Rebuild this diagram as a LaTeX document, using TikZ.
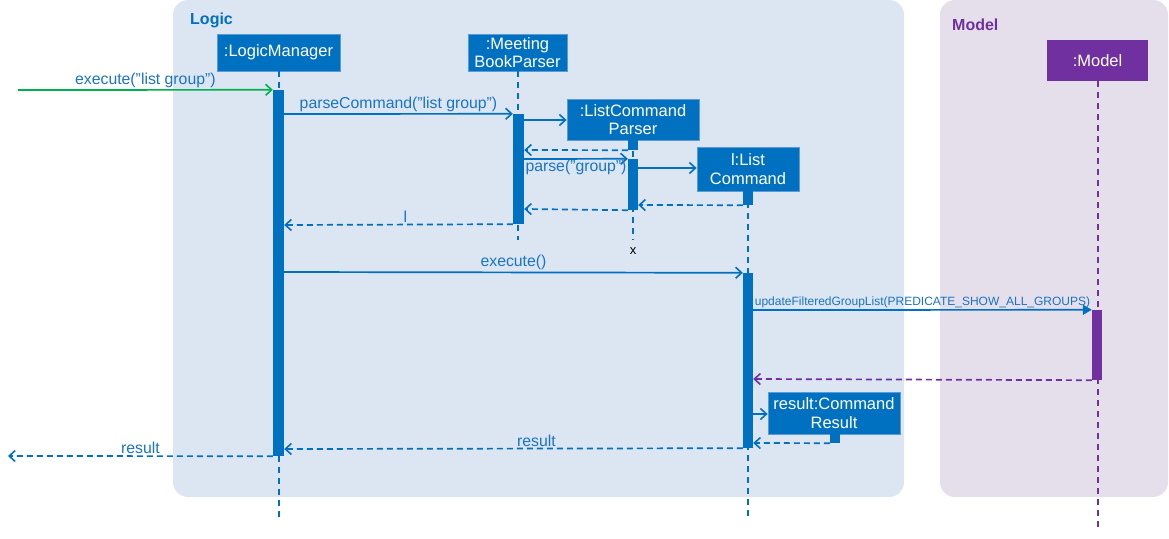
\documentclass[tikz,border=0pt]{standalone}
\usepackage{fontspec}
\setmainfont{Liberation Sans}
\usetikzlibrary{arrows.meta}
\definecolor{lblue}{HTML}{0070C0}
\definecolor{tblue}{HTML}{1A74C4}
\definecolor{lgreen}{HTML}{00B050}
\definecolor{lpurple}{HTML}{7030A0}
\definecolor{logicbg}{HTML}{DCE6F2}
\definecolor{modelbg}{HTML}{E5DFEC}
\definecolor{boxedge}{HTML}{5B9BD5}
\begin{document}
\begin{tikzpicture}[x=1pt,y=-1pt,
  frame/.style={fill=#1,rounded corners=15pt,inner sep=0,draw=none},
  obj/.style={fill=lblue,draw=boxedge,line width=0.8pt,text=white,align=center,inner sep=0,
    font=\fontsize{16.5}{18.5}\selectfont},
  mobj/.style={fill=lpurple,draw=none,text=white,align=center,inner sep=0,
    font=\fontsize{16.5}{18.5}\selectfont},
  actbar/.style={fill=#1,draw=none,inner sep=0,minimum width=11},
  life/.style={draw=#1,line width=2pt,dash pattern=on 6pt off 5pt},
  msg/.style={draw=lblue,line width=1.7pt,-{Straight Barb[length=6pt,width=11pt,line width=1.6pt]}},
  ret/.style={draw=#1,line width=1.7pt,dash pattern=on 6pt off 4pt,-{Straight Barb[length=6pt,width=11pt,line width=1.6pt]}},
  lbl/.style={text=tblue,font=\fontsize{15.8}{17}\selectfont,inner sep=1.5pt},
  ttl/.style={font=\bfseries\fontsize{16}{17}\selectfont,inner sep=0}
]
\useasboundingbox (0,0) rectangle (1169,538);
% frames
\node[frame=logicbg,minimum width=731,minimum height=497] (logic) at (538.5,248.5) {};
\node[frame=modelbg,minimum width=228,minimum height=497] (model) at (1054,248.5) {};
\node[ttl,text=lblue,anchor=west] (logicT) at (190,20) {Logic};
\node[ttl,text=lpurple,anchor=west] (modelT) at (952,25) {Model};

% lifeline heads
\node[obj,minimum width=123,minimum height=37] (lm) at (278.5,52.5) {:LogicManager};
\node[obj,minimum width=99,minimum height=37] (mbp) at (517.5,52.5) {:Meeting\\BookParser};
\node[obj,minimum width=132,minimum height=41] (lcp) at (633,119.5) {:ListCommand\\Parser};
\node[obj,minimum width=102,minimum height=44] (lc) at (748,169) {l:List\\Command};
\node[mobj,minimum width=101,minimum height=41] (mdl) at (1097.5,60.5) {:Model};
\node[obj,minimum width=132,minimum height=42] (cr) at (834,413) {result:Command\\Result};

% lifelines
\draw[life=lblue] (lm.south) -- (lm.south |- 0,520);
\draw[life=lblue] (mbp.south) -- (mbp.south |- 0,240);
\draw[life=lblue] (lcp.south) -- (lcp.south |- 0,240);
\node[inner sep=0,font=\fontsize{13}{14}\selectfont] (x) at (633,251) {x};
\draw[life=lblue] (lc.south) -- (lc.south |- 0,520);
\draw[life=lpurple] (mdl.south) -- (mdl.south |- 0,530);

% activation bars
\node[actbar=lblue,minimum height=366] (lmbar) at (278.5,273) {};
\node[actbar=lblue,minimum height=110] (mbpbar) at (518.5,169) {};
\node[actbar=lblue,minimum width=10,minimum height=10] (lcpbar0) at (633,145) {};
\node[actbar=lblue,minimum width=10,minimum height=51] (lcpbar) at (633,184.5) {};
\node[actbar=lblue,minimum width=10,minimum height=14] (lcbar0) at (748,198) {};
\node[actbar=lblue,minimum width=10,minimum height=175] (lcbar) at (748,360.5) {};
\node[actbar=lpurple,minimum width=10,minimum height=70] (mbar) at (1097,345) {};
\node[actbar=lblue,minimum width=10,minimum height=9] (crbar0) at (835,438.5) {};

% messages
\coordinate (src) at (18,90);
\coordinate (snk) at (8,456);
\draw[msg,draw=lgreen] (src) -- (lmbar.north west) node[lbl,midway,above] {execute("list group")};
\draw[msg] (lmbar.east |- 0,114) -- (mbpbar.north west) node[lbl,midway,above] {parseCommand("list group")};
\draw[msg] (mbpbar.east |- 0,120) -- (lcp.west |- 0,120);
\draw[ret=lblue] (lcpbar0.south west) -- (mbpbar.east |- 0,150);
\draw[msg] (mbpbar.east |- 0,159) -- (lcpbar.north west) node[lbl,midway,below,yshift=1pt] {parse("group")};
\draw[msg] (lcpbar.east |- 0,168) -- (lc.west |- 0,168);
\draw[ret=lblue] (lcbar0.south west) -- (lcpbar.east |- 0,205);
\draw[ret=lblue] (lcpbar.south west) -- (mbpbar.east |- 0,209);
\draw[ret=lblue] (mbpbar.south west) -- (lmbar.east |- 0,225) node[lbl,pos=0.47,above] {l};
\draw[msg] (lmbar.east |- 0,272) -- (lcbar.north west) node[lbl,midway,above] {execute()};
\draw[draw=lblue,line width=1.7pt,-{Triangle[length=9pt,width=10pt]}] (lcbar.east |- 0,310) -- (mbar.north west)
  node[lbl,midway,above,font=\fontsize{12}{13}\selectfont] {updateFilteredGroupList(PREDICATE\_SHOW\_ALL\_GROUPS)};
\draw[ret=lpurple] (mbar.south west) -- (lcbar.east |- 0,379);
\draw[msg] (lcbar.east |- 0,414) -- (cr.west |- 0,414);
\draw[ret=lblue] (crbar0.south west) -- (lcbar.east |- 0,443);
\draw[ret=lblue] (lcbar.south west) -- (lmbar.east |- 0,449) node[lbl,pos=0.45,above] {result};
\draw[ret=lblue] (lmbar.south west) -- (snk) node[lbl,midway,above] {result};
\end{tikzpicture}
\end{document}
